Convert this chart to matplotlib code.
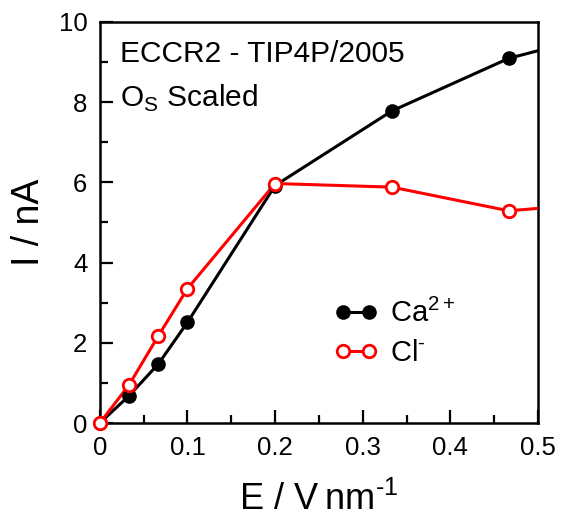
import numpy as np
import matplotlib
matplotlib.use('Agg')
import matplotlib.pyplot as plt

plt.rcParams['font.family'] = ['Liberation Sans', 'DejaVu Sans']
plt.rcParams['mathtext.fontset'] = 'custom'
plt.rcParams['mathtext.rm'] = 'Liberation Sans'

# данни: поле E (V/nm) и ток I (nA)
E = [0.0, 1/30, 2/30, 3/30, 6/30, 10/30, 14/30, 0.6]
ca = [0.0, 0.68, 1.47, 2.51, 5.92, 7.78, 9.09, 9.85]
cl = [0.0, 0.95, 2.17, 3.35, 5.97, 5.88, 5.29, 5.53]

x_ticks = [0, 0.1, 0.2, 0.3, 0.4, 0.5]
x_tick_labels = ['0', '0.1', '0.2', '0.3', '0.4', '0.5']
y_ticks = [0, 2, 4, 6, 8, 10]

fig = plt.figure(figsize=(5.61, 5.2), dpi=100)
ax = fig.add_axes([0.178, 0.1865, 0.781, 0.7715])

E = np.array(E)
inside = E <= 0.5

# линии (изрязани от рамката)
ax.plot(E, ca, color='black', lw=2.2, zorder=2)
ax.plot(E, cl, color='red', lw=2.2, zorder=3)
# точки (не се изрязват)
ax.plot(E[inside], np.array(ca)[inside], 'o', color='black', ms=9.5,
        clip_on=False, zorder=4)
ax.plot(E[inside], np.array(cl)[inside], 'o', mfc='white', mec='red', mew=2.0,
        ms=9.0, clip_on=False, zorder=5)

# легенда
h1, = ax.plot([], [], '-o', color='black', lw=2.2, ms=9.5)
h2, = ax.plot([], [], '-o', color='red', mfc='white', mec='red', mew=2.0, lw=2.2, ms=9.0)
ax.legend([h1, h2], ['Ca$^{\\mathregular{2+}}$', 'Cl$^{\\text{-}}$'],
          loc='upper left', bbox_to_anchor=(0.475, 0.375), frameon=False,
          fontsize=21, handlelength=1.5, handletextpad=0.4, labelspacing=0.38,
          numpoints=2)

ax.text(0.046, 0.955, 'ECCR2 - TIP4P/2005', transform=ax.transAxes,
        fontsize=21.5, va='top', ha='left')
ax.text(0.046, 0.848, 'O$_\\mathregular{S}$ Scaled', transform=ax.transAxes,
        fontsize=21.5, va='top', ha='left')

ax.set_xlim(0, 0.5)
ax.set_ylim(0, 10)
ax.set_xticks(x_ticks)
ax.set_xticklabels(x_tick_labels)
ax.set_yticks(y_ticks)
ax.set_xticks(np.arange(0.05, 0.5, 0.1), minor=True)
ax.set_yticks(np.arange(1, 10, 2), minor=True)

ax.tick_params(which='both', direction='in', width=1.6, labelsize=18.5)
ax.tick_params(which='major', length=9.5)
ax.tick_params(which='minor', length=5.5)
ax.tick_params(axis='x', pad=9)
ax.tick_params(axis='y', pad=9)
for s in ax.spines.values():
    s.set_linewidth(1.8)

ax.set_xlabel('E / V\u2009nm$^{\\text{-1}}$', fontsize=26, labelpad=16)
ax.set_ylabel('I / nA', fontsize=27, labelpad=8)

fig.savefig('out.png', dpi=100)
